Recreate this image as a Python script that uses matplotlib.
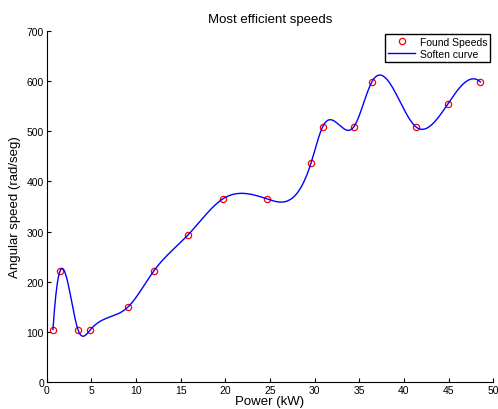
import matplotlib
matplotlib.use("Agg")
import matplotlib.pyplot as plt
import numpy as np

plt.rcParams['font.family'] = ['Liberation Sans', 'DejaVu Sans']

# found speeds (power in kW, angular speed in rad/seg)
power = [0.7, 1.5, 3.5, 4.9, 9.1, 12.0, 15.8, 19.7, 24.7, 29.6, 30.9, 34.4, 36.4, 41.3, 44.9, 48.55]
speed = [105, 222, 105, 105, 150, 222, 293, 365, 365, 437, 509, 509, 598, 509, 554, 598]


def spline_nak(x, y, xs):
    # cubic spline with not-a-knot end conditions
    x = np.asarray(x, float)
    y = np.asarray(y, float)
    n = len(x)
    h = np.diff(x)
    A = np.zeros((n, n))
    b = np.zeros(n)
    for i in range(1, n - 1):
        A[i, i - 1] = h[i - 1]
        A[i, i] = 2 * (h[i - 1] + h[i])
        A[i, i + 1] = h[i]
        b[i] = 6 * ((y[i + 1] - y[i]) / h[i] - (y[i] - y[i - 1]) / h[i - 1])
    A[0, 0] = h[1]
    A[0, 1] = -(h[0] + h[1])
    A[0, 2] = h[0]
    A[-1, -3] = h[-1]
    A[-1, -2] = -(h[-2] + h[-1])
    A[-1, -1] = h[-2]
    M = np.linalg.solve(A, b)
    k = np.clip(np.searchsorted(x, xs) - 1, 0, n - 2)
    t0 = x[k + 1] - xs
    t1 = xs - x[k]
    hk = h[k]
    return (M[k] * t0**3 / (6 * hk) + M[k + 1] * t1**3 / (6 * hk)
            + (y[k] / hk - M[k] * hk / 6) * t0 + (y[k + 1] / hk - M[k + 1] * hk / 6) * t1)


xs = np.linspace(power[0], power[-1], 600)
ys = spline_nak(power, speed, xs)

fig = plt.figure(figsize=(4.98, 4.10), dpi=100)
ax = fig.add_axes([0.0938, 0.065, 0.8968, 0.8577])

ax.plot(power, speed, 'o', color='red', markerfacecolor='none', markersize=4.5,
        markeredgewidth=0.9, label='Found Speeds')
ax.plot(xs, ys, '-', color='blue', linewidth=1.0, label='Soften curve')

ax.set_xlim(0, 50)
ax.set_ylim(0, 700)
ax.set_xticks(range(0, 51, 5))
ax.set_yticks(range(0, 701, 100))
ax.spines['top'].set_visible(False)
ax.spines['right'].set_visible(False)
ax.tick_params(direction='in', labelsize=7.5, length=3, pad=2)

ax.set_title('Most efficient speeds', fontsize=9.5, pad=6)
ax.set_xlabel('Power (kW)', fontsize=9.5, labelpad=0)
ax.set_ylabel('Angular speed (rad/seg)', fontsize=9.5, labelpad=4)

leg = ax.legend(loc='upper right', fontsize=7.5, fancybox=False, framealpha=1,
                edgecolor='black', borderpad=0.3, handlelength=2.6,
                handletextpad=0.4, labelspacing=0.2, borderaxespad=0.3)
leg.get_frame().set_linewidth(1.0)

fig.savefig('out.png', dpi=100)
